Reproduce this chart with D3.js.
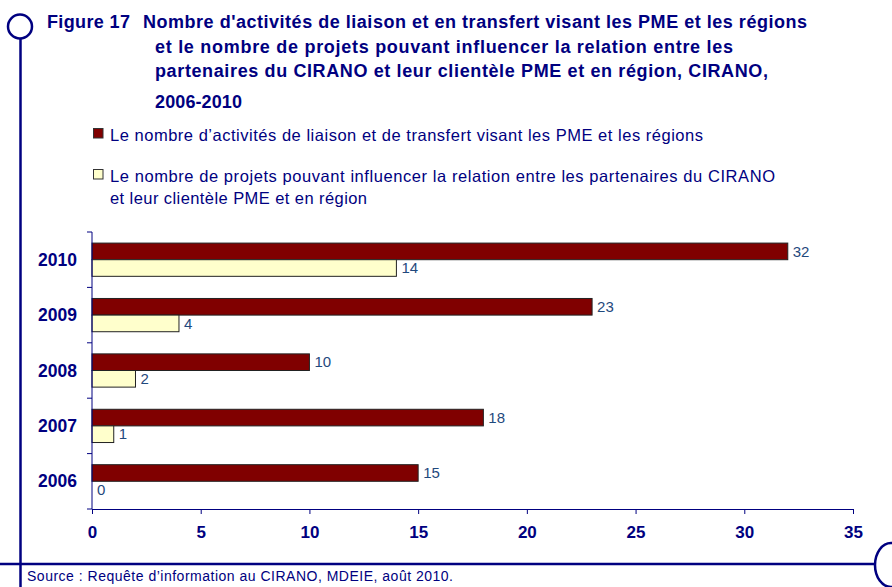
<!DOCTYPE html>
<html><head><meta charset="utf-8">
<script src="https://cdn.jsdelivr.net/npm/d3@7"></script>
<style>
html,body{margin:0;padding:0;background:#fff;}
svg{display:block;font-family:"Liberation Sans",Arial,sans-serif;}
</style></head>
<body>
<svg id="c" width="892" height="587"></svg>
<script>
const years = ["2010","2009","2008","2007","2006"];
const activites = [32,23,10,18,15];
const projets = [14,4,2,1,0];
const xTicks = [0,5,10,15,20,25,30,35];
const figureLabel = "Figure 17";
const titleLines = [
  "Nombre d'activités de liaison et en transfert visant les PME et les régions",
  "et le nombre de projets pouvant influencer la relation entre les",
  "partenaires du CIRANO et leur clientèle PME et en région, CIRANO,",
  "2006-2010"
];
const legendLabels = [
  ["Le nombre d’activités de liaison et de transfert visant les PME et les régions"],
  ["Le nombre de projets pouvant influencer la relation entre les partenaires du CIRANO",
   "et leur clientèle PME et en région"]
];
const sourceText = "Source : Requête d’information au CIRANO, MDEIE, août 2010.";

const navy = "#000080", valColor = "#1F497D";
const colors = ["#800000","#FFFFCC"];
const svg = d3.select("#c");

// decorative frame
svg.append("circle").attr("cx",20).attr("cy",26.5).attr("r",12)
  .attr("fill","none").attr("stroke",navy).attr("stroke-width",2.5);
svg.append("line").attr("x1",20.5).attr("x2",20.5).attr("y1",38.5).attr("y2",587)
  .attr("stroke",navy).attr("stroke-width",2.5);
svg.append("line").attr("x1",0).attr("x2",875).attr("y1",564).attr("y2",564)
  .attr("stroke",navy).attr("stroke-width",2.5);
svg.append("ellipse").attr("cx",891).attr("cy",565).attr("rx",16).attr("ry",22)
  .attr("fill","#fff").attr("stroke",navy).attr("stroke-width",2.5);

// title
svg.append("text").attr("x",47).attr("y",28).attr("fill",navy)
  .attr("font-weight","bold").attr("font-size",18)
  .attr("textLength",83).attr("lengthAdjust","spacing").text(figureLabel);
const tX = [143,155,155,155], tY = [28,53,77,108], tW = [664,578,613,87];
titleLines.forEach((t,i)=>{
  svg.append("text").attr("x",tX[i]).attr("y",tY[i]).attr("fill",navy)
    .attr("font-weight","bold").attr("font-size",18)
    .attr("textLength",tW[i]).attr("lengthAdjust","spacing").text(t);
});

// legend
const legY = [[141],[182,204]];
const legW = [[593],[665,257]];
legendLabels.forEach((lines,i)=>{
  svg.append("rect").attr("x",93.5).attr("y",legY[i][0]-12.5).attr("width",9.5).attr("height",9.5)
    .attr("fill",colors[i]).attr("stroke","#333").attr("stroke-width",1);
  lines.forEach((t,j)=>{
    svg.append("text").attr("x",110).attr("y",legY[i][j]).attr("fill",navy)
      .attr("font-size",16.5).attr("textLength",legW[i][j]).attr("lengthAdjust","spacing").text(t);
  });
});

// scales
const x = d3.scaleLinear().domain([0,35]).range([92,853]);
const y = d3.scaleBand().domain(years).range([232,509]).paddingInner(0.4).paddingOuter(0.2);
const y2 = d3.scaleBand().domain([0,1]).range([0,y.bandwidth()]);

// bars
const series = [activites, projets];
series.forEach((vals,si)=>{
  const g = svg.append("g");
  g.selectAll("rect").data(years).join("rect")
    .attr("x",x(0)).attr("y",(d)=>y(d)+y2(si))
    .attr("width",(d,i)=>x(vals[i])-x(0)).attr("height",y2.bandwidth())
    .attr("fill",colors[si]).attr("stroke","#222").attr("stroke-width",1);
  g.selectAll("text").data(years).join("text")
    .attr("x",(d,i)=>x(vals[i])+5).attr("y",(d)=>y(d)+y2(si)+y2.bandwidth()/2)
    .attr("dy","0.35em").attr("fill",valColor).attr("font-size",15)
    .text((d,i)=>vals[i]);
});

// axes
const xAxis = d3.axisBottom(x).tickValues(xTicks).tickSize(5).tickSizeOuter(0).tickPadding(12);
const gx = svg.append("g").attr("transform","translate(0,509)").call(xAxis);
gx.selectAll("path,line").attr("stroke",navy);
gx.selectAll("text").attr("fill",navy).attr("font-size",17).attr("font-weight","bold")
  .attr("font-family","'Liberation Sans',Arial,sans-serif");

const yEdges = d3.range(6).map(i=>232+i*y.step());
const gy = svg.append("g");
gy.append("line").attr("x1",92).attr("x2",92).attr("y1",232).attr("y2",509).attr("stroke",navy);
gy.selectAll("line.t").data(yEdges).join("line").attr("class","t")
  .attr("x1",87).attr("x2",92).attr("y1",d=>d).attr("y2",d=>d).attr("stroke",navy);
gy.selectAll("text").data(years).join("text")
  .attr("x",77).attr("y",d=>y(d)+y.bandwidth()/2).attr("dy","0.35em")
  .attr("text-anchor","end").attr("fill",navy).attr("font-size",17.5).attr("font-weight","bold")
  .text(d=>d);

// source
svg.append("text").attr("x",27).attr("y",581).attr("fill",navy).attr("font-size",14)
  .attr("textLength",426).attr("lengthAdjust","spacing").text(sourceText);
</script>
</body></html>
